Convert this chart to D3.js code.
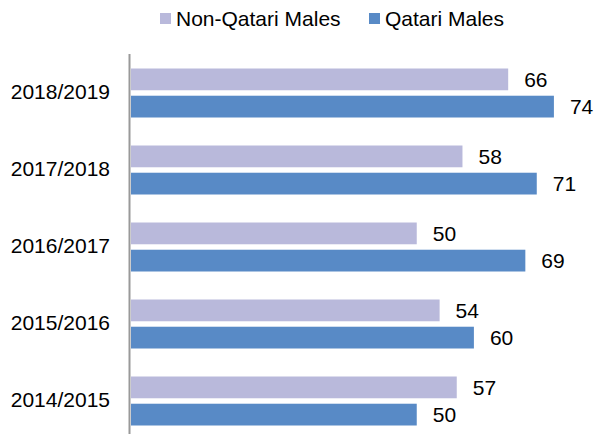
<!DOCTYPE html>
<html>
<head>
<meta charset="utf-8">
<script src="https://cdn.jsdelivr.net/npm/d3@7"></script>
<style>
	body { margin: 0; background: #fff; }
	text { font-family: "Liberation Sans", Arial, sans-serif; fill: #000; }
</style>
</head>
<body>
<svg id="chart" width="594" height="434"></svg>
<script>
// data, top to bottom as shown
var years = ["2018/2019", "2017/2018", "2016/2017", "2015/2016", "2014/2015"];
var seriesNames = ["Non-Qatari Males", "Qatari Males"];
var nonQatari = [66, 58, 50, 54, 57];
var qatari = [74, 71, 69, 60, 50];

var colors = ["#b9b9db", "#588ac6"];

var svg = d3.select("#chart");

var x = d3.scaleLinear()
	.domain([0, 80])
	.range([131, 131 + 80 * 5.715]);

var y = d3.scaleBand()
	.domain(years)
	.range([54.5, 439.5]);

var inner = d3.scaleBand()
	.domain(seriesNames)
	.range([-24.5, 24.5])
	.paddingInner(0.2);

var rows = years.map(function(yr, i) {
	return { year: yr, vals: [nonQatari[i], qatari[i]] };
});

var groups = svg.selectAll("g.row")
	.data(rows)
	.enter()
	.append("g")
		.attr("class", "row")
		.attr("transform", d => "translate(0," + (y(d.year) + y.bandwidth() / 2) + ")");

groups.selectAll("rect")
	.data(d => d.vals.map((v, j) => ({ name: seriesNames[j], v: v, j: j })))
	.enter()
	.append("rect")
		.attr("x", x(0))
		.attr("y", d => inner(d.name))
		.attr("width", d => x(d.v) - x(0))
		.attr("height", inner.bandwidth())
		.attr("fill", d => colors[d.j]);

groups.selectAll("text.val")
	.data(d => d.vals.map((v, j) => ({ name: seriesNames[j], v: v })))
	.enter()
	.append("text")
		.attr("class", "val")
		.attr("x", d => x(d.v) + 16)
		.attr("y", d => inner(d.name) + inner.bandwidth() / 2)
		.attr("dy", "0.35em")
		.style("font-size", "21px")
		.text(d => d.v);

// category labels
svg.selectAll("text.cat")
	.data(years)
	.enter()
	.append("text")
		.attr("class", "cat")
		.attr("x", 110)
		.attr("y", d => y(d) + y.bandwidth() / 2 - 1)
		.attr("dy", "0.35em")
		.attr("text-anchor", "end")
		.style("font-size", "21px")
		.text(d => d);

// axis line
svg.append("line")
	.attr("x1", 129.5).attr("x2", 129.5)
	.attr("y1", 54).attr("y2", 434)
	.attr("stroke", "#999")
	.attr("stroke-width", 2);

// legend
var legendX = [160, 369];
var legend = svg.selectAll("g.legend")
	.data(seriesNames)
	.enter()
	.append("g")
		.attr("class", "legend")
		.attr("transform", (d, i) => "translate(" + legendX[i] + ",0)");

legend.append("rect")
	.attr("x", 0).attr("y", 13)
	.attr("width", 11).attr("height", 11)
	.attr("fill", (d, i) => colors[i]);

legend.append("text")
	.attr("x", 16)
	.attr("y", 18.5)
	.attr("dy", "0.35em")
	.style("font-size", "21px")
	.text(d => d);
</script>
</body>
</html>
